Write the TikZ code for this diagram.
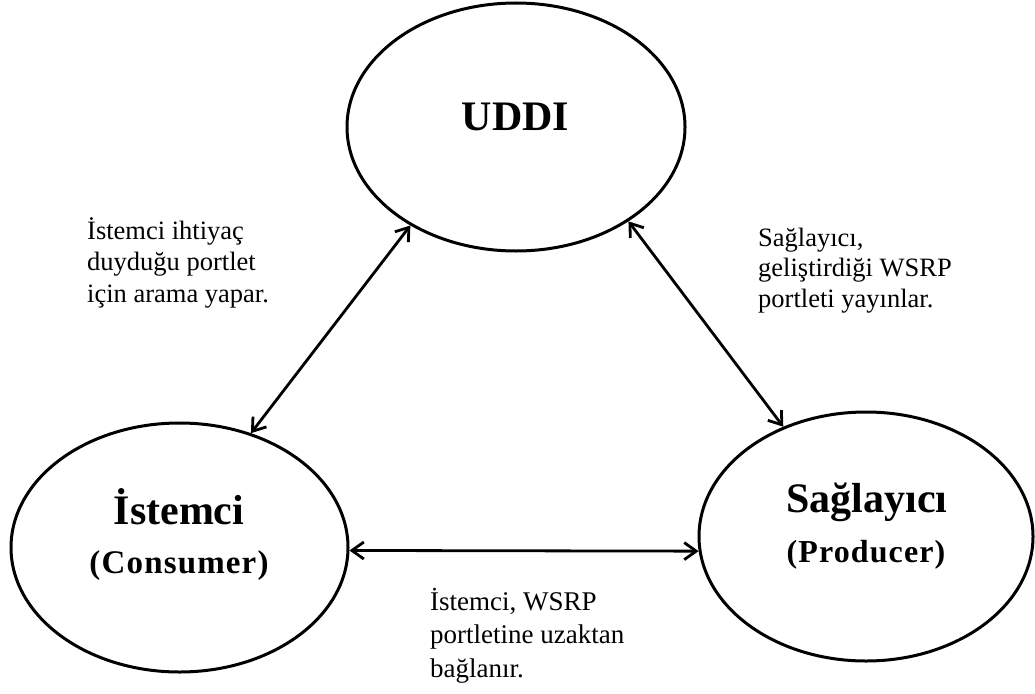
\documentclass[tikz,border=0pt]{standalone}
\usepackage{fontspec}
\setmainfont{Liberation Serif}
\usetikzlibrary{shapes.geometric,arrows.meta}
\begin{document}
\begin{tikzpicture}[x=1pt,y=-1pt,
  party/.style={ellipse,draw,line width=3pt,inner sep=0pt},
  link/.style={line width=2.8pt,
    {Straight Barb[length=12pt,width=17pt]}-{Straight Barb[length=12pt,width=17pt]}},
  title/.style={font=\bfseries\fontsize{42}{46}\selectfont,inner sep=0pt,anchor=base},
  subtitle/.style={font=\bfseries\fontsize{33}{36}\selectfont\addfontfeature{LetterSpace=3.5},
    inner sep=0pt,anchor=base},
  note/.style={font=\fontsize{26.5}{31.5}\selectfont,align=left,inner sep=0pt,anchor=base west}]
\useasboundingbox[fill=white] (0,0) rectangle (1035,693);

% the three parties
\node[party,minimum width=338pt,minimum height=248pt] (uddi) at (516,127) {};
\node[party,minimum width=337pt,minimum height=249pt] (cons) at (179.5,547.5) {};
\node[party,minimum width=334pt,minimum height=249pt] (prod) at (866,536.5) {};

% their names
\node[title] (uddiname) at (515.5,130) {UDDI};
\node[title] (consname) at (179,524) {İstemci};
\node[subtitle] (conssub) at (179,573) {(Consumer)};
\node[title] (prodname) at (867,512) {Sağlayıcı};
\node[subtitle,font=\bfseries\fontsize{32}{35}\selectfont\addfontfeature{LetterSpace=3.5}]
  (prodsub) at (866,562) {(Producer)};

% interactions
\draw[link] (cons.58.4) -- (uddi.223.9);
\draw[link] (uddi.320.3) -- (prod.127);
\draw[link] (cons.-1.9) -- (prod.185.7);

% explanations (each placed by the baseline of its last line)
\node[note] (searchnote) at (87,302) {İstemci ihtiyaç\\duyduğu portlet\\için arama yapar.};
\node[note,font=\fontsize{26.5}{30.5}\selectfont] (publishnote) at (758,307)
  {Sağlayıcı,\\geliştirdiği WSRP\\portleti yayınlar.};
\node[note,font=\fontsize{27}{33.5}\selectfont] (bindnote) at (430,677)
  {İstemci, WSRP\\portletine uzaktan\\bağlanır.};
\end{tikzpicture}
\end{document}
